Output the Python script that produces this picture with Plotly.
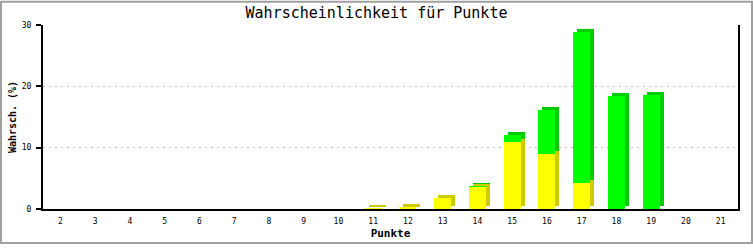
import plotly.graph_objects as go

punkte = list(range(2, 22))
gelb = [0, 0, 0, 0, 0, 0, 0, 0, 0, 0.1, 0.3, 1.75, 3.6, 11.0, 8.9, 4.3, 0, 0, 0, 0]
gruen = [0, 0, 0, 0, 0, 0, 0, 0, 0, 0, 0, 0, 0.05, 1.1, 7.3, 24.6, 18.4, 18.6, 0, 0]

W, H = 753, 250
ML, MR, MT, MB = 43, 15, 25, 36
PW, PH = W - ML - MR, H - MT - MB
YMAX = 30
cat_px = PW / len(punkte)
bar_w = 17 / cat_px
dx = 4 / cat_px
dy = 3 / (PH / YMAX)

MONO = "DejaVu Sans Mono"

fig = go.Figure()


def add_segment(values, bases, front, side):
    sb = [b + dy if v > 0 else None for v, b in zip(values, bases)]
    sv = [v if v > 0 else None for v in values]
    fig.add_trace(go.Bar(x=punkte, y=sv, base=sb, width=bar_w, offset=-bar_w / 2 + dx,
                         marker=dict(color=side, line=dict(width=0)), hoverinfo="skip",
                         showlegend=False))
    fv = [v if v > 0 else None for v in values]
    fb = [b if v > 0 else None for v, b in zip(values, bases)]
    fig.add_trace(go.Bar(x=punkte, y=fv, base=fb, width=bar_w, offset=-bar_w / 2,
                         marker=dict(color=front, line=dict(width=0)), hoverinfo="skip",
                         showlegend=False))


add_segment(gelb, [0] * len(punkte), "#ffff00", "#cccc00")
add_segment(gruen, gelb, "#00ff00", "#00cc00")

fig.update_layout(
    width=W, height=H,
    margin=dict(l=ML, r=MR, t=MT, b=MB, pad=0),
    paper_bgcolor="white", plot_bgcolor="white",
    barmode="overlay", bargap=0,
    font=dict(family=MONO, size=8, color="black"),
    title=dict(text="Wahrscheinlichkeit für Punkte", x=0.5, xanchor="center",
               y=1 - 13 / H, yanchor="middle", yref="container",
               font=dict(family=MONO, size=15, color="black")),
    xaxis=dict(range=[1.5, 21.5], tickmode="array", tickvals=punkte,
               ticktext=[str(p) for p in punkte], showgrid=False, zeroline=False,
               showline=True, linecolor="black", linewidth=2, ticks="",
               ticklabelstandoff=3,
               tickfont=dict(family=MONO, size=8, color="black"),
               title=dict(text="<b>Punkte</b>", standoff=5,
                          font=dict(family=MONO, size=11, color="black"))),
    yaxis=dict(range=[0, YMAX], tickvals=[0, 10, 20, 30], showgrid=True,
               gridcolor="#c0c0c0", griddash="2px,4px", gridwidth=1, zeroline=False,
               showline=True, linecolor="black", linewidth=2, mirror=True,
               ticks="outside", ticklen=5, tickcolor="black", tickwidth=2,
               ticklabelstandoff=3,
               tickfont=dict(family=MONO, size=8, color="black"),
               title=dict(text="<b>Wahrsch. (%)</b>", standoff=3,
                          font=dict(family=MONO, size=10, color="black"))),
)

fig.add_shape(type="rect", xref="paper", yref="paper",
              x0=-(ML - 1) / PW, x1=1 + (MR - 1) / PW,
              y0=-(MB - 1) / PH, y1=1 + (MT - 1) / PH,
              line=dict(color="#a0a0a0", width=2), fillcolor="rgba(0,0,0,0)", layer="above")

fig.write_html("out.html")
